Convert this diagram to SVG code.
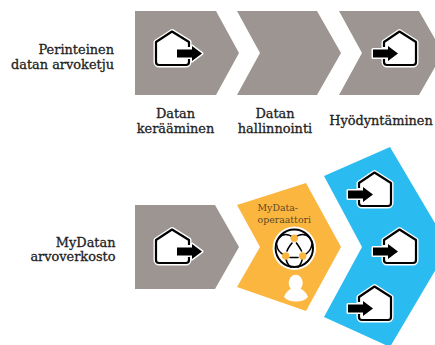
<svg xmlns="http://www.w3.org/2000/svg" width="435" height="345" viewBox="0 0 435 345">
<style>
.g{fill:#9c9591}
.t{font-family:"DejaVu Serif","Liberation Serif",serif;font-size:12.900px;fill:#222;stroke:#222;stroke-width:.3}
.s{font-family:"DejaVu Serif","Liberation Serif",serif;font-size:9.400px;fill:#5b4a24}
.hb{fill:#fff;stroke:#fff;stroke-width:5;stroke-linejoin:round}
.hl{fill:none;stroke:#000;stroke-width:2.200;stroke-linejoin:round;stroke-linecap:butt}
.ab{fill:#000;stroke:#fff;stroke-width:3;stroke-linejoin:round;paint-order:stroke}
.n{fill:none;stroke:#000;stroke-width:1.600;stroke-linecap:round}
.d{fill:#fbb640}
</style>
<defs>
<g id="out">
<path class="hb" d="M172 31.500L189 42V62a3 3 0 0 1-3 3H159a3 3 0 0 1-3-3V42Z"/>
<path class="hl" d="M189 47V42L172 31.500L156 42V62a3 3 0 0 0 3 3H186a3 3 0 0 0 3-3V59"/>
<path class="ab" d="M177 49.500H192V46L202 53.500L192 61V57.500H177Z"/>
</g>
<g id="in">
<path class="hb" d="M399.500 31.500L416 42V62a3 3 0 0 1-3 3H387a3 3 0 0 1-3-3V42Z"/>
<path class="hl" d="M384 47V42L399.500 31.500L416 42V62a3 3 0 0 1-3 3H387a3 3 0 0 1-3-3V59"/>
<path class="ab" d="M373 49.500H388V46L398 53.500L388 61V57.500H373Z"/>
</g>
</defs>
<g id="connectors"></g>
<g id="label-perinteinen"><text class="t" text-anchor="end" x="114" y="54">Perinteinen</text><text class="t" text-anchor="end" x="114" y="69">datan arvoketju</text></g>
<g id="node-top-1"><polygon class="g" points="135,11 216,11 239,53 216,95 135,95"/><use href="#out"/></g>
<g id="node-top-2"><polygon class="g" points="237,11 317,11 341,53 317,95 237,95 260,53"/></g>
<g id="node-top-3"><polygon class="g" points="339,11 419,11 443,53 419,95 339,95 362,53"/><use href="#in"/></g>
<g id="label-kerays"><text class="t" text-anchor="middle" x="175.500" y="118">Datan</text><text class="t" text-anchor="middle" x="175.500" y="133">kerääminen</text></g>
<g id="label-hallinta"><text class="t" text-anchor="middle" x="275" y="118">Datan</text><text class="t" text-anchor="middle" x="275" y="133">hallinnointi</text></g>
<g id="label-hyodyntaminen"><text class="t" text-anchor="middle" x="381" y="125">Hyödyntäminen</text></g>
<g id="label-mydatan"><text class="t" text-anchor="end" x="115.500" y="247">MyDatan</text><text class="t" text-anchor="end" x="115.500" y="261">arvoverkosto</text></g>
<g id="node-source"><polygon class="g" points="135,205 215,205 239,247 215,289 135,289"/><use href="#out" y="198"/></g>
<g id="node-operator">
<polygon fill="#fbb640" points="237,205 306,183 341,247 306,311 237,287 260,247"/>
<text class="s" x="257.500" y="211">MyData-</text>
<text class="s" x="257.500" y="223">operaattori</text>
<circle cx="294.300" cy="248.300" r="21.700" fill="#fff"/>
<circle cx="294.300" cy="248.300" r="18.700" fill="none" stroke="#000" stroke-width="2"/>
<path class="n" d="M294 238Q285 231 279 238M294 238Q303 231 310 238M285.700 256Q277 252 276.500 244M302.700 256Q311 252 312 244M285.700 256Q286 264 291 267M302.700 256Q302 264 298 267M292 243Q288 248 287 251M296.500 243Q300 248 301.500 251M290 257.500H298"/>
<circle class="d" cx="294.300" cy="238.300" r="3.700"/><circle class="d" cx="285.700" cy="256" r="3.700"/><circle class="d" cx="302.700" cy="256" r="3.700"/>
<path d="M284 297Q286 291 291.500 288.500Q295.500 292 300 288.500Q306 291 308 297Q304 301.500 296 301.500Q288 301.500 284 297Z" fill="#fff"/>
<ellipse cx="295.700" cy="283" rx="7" ry="8.300" fill="#fff"/>
</g>
<g id="node-users">
<polygon fill="#2abcf0" points="324,176 390,147 449,247 390,347 324,317 362,247"/>
<use href="#in" x="-25" y="141"/><use href="#in" y="198"/><use href="#in" x="-25" y="255"/>
</g>
</svg>
